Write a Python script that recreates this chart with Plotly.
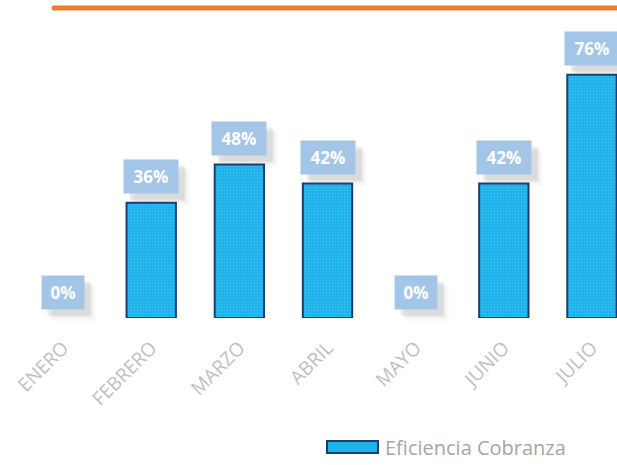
import plotly.graph_objects as go

months = ["ENERO", "FEBRERO", "MARZO", "ABRIL", "MAYO", "JUNIO", "JULIO"]
eficiencia = [0, 36, 48, 42, 0, 42, 76]
labels = ["0%", "36%", "48%", "42%", "0%", "42%", "76%"]
series_name = "Eficiencia Cobranza"

fig = go.Figure()
fig.add_trace(go.Bar(
    x=months, y=eficiencia, name=series_name, width=0.56,
    marker=dict(color="#1db2ea",
                line=dict(color="#1f3b73", width=[2 if v > 0 else 0 for v in eficiencia]),
                pattern=dict(shape=".", fgcolor="#63cdf3", size=3, solidity=0.25)),
    showlegend=False, hoverinfo="skip",
))

annotations = []
for m, v, t in zip(months, eficiencia, labels):
    w = 42 if len(t) == 2 else 54
    for dx, dy, a in [(6, -6, 0.10), (8, -8, 0.08), (11, -11, 0.05)]:
        annotations.append(dict(x=m, y=v, xref="x", yref="y", text="", showarrow=False,
                                width=w, height=33, borderpad=0, xshift=dx, yshift=26 + dy,
                                bgcolor=f"rgba(90,90,90,{a})"))
    annotations.append(dict(x=m, y=v, xref="x", yref="y", text="<b>" + t + "</b>", showarrow=False,
                            width=w, height=33, borderpad=0, yshift=26,
                            bgcolor="#a3c6e8",
                            font=dict(family="Open Sans", size=17, color="white")))

L, T, B = 19, 30, 147
pw, ph = 617 - L, 465 - T - B
def px(xp): return (xp - L) / pw
def py(yp): return (465 - B - yp) / ph

annotations.append(dict(x=px(383), y=py(447), xref="paper", yref="paper", text=series_name,
                        showarrow=False, xanchor="left", yanchor="middle",
                        font=dict(family="Open Sans", size=20, color="#a6a6a6")))

fig.update_layout(
    annotations=annotations,
    width=617, height=465,
    margin=dict(l=L, r=0, t=T, b=B),
    paper_bgcolor="white", plot_bgcolor="white",
    xaxis=dict(range=[-0.5, 6.284], tickangle=-45, showgrid=False, zeroline=False,
               showline=False, ticks="", ticklabelstandoff=14,
               tickfont=dict(family="Open Sans", size=19, color="#c0c0c0")),
    yaxis=dict(range=[0, 90], visible=False, showgrid=False, zeroline=False),
    shapes=[
        dict(type="line", xref="paper", yref="paper", x0=px(54), x1=px(620), y0=py(8), y1=py(8),
             line=dict(color="#ed7d31", width=5)),
        dict(type="circle", xref="paper", yref="paper", x0=px(51.5), x1=px(56.5), y0=py(5.5), y1=py(10.5),
             fillcolor="#ed7d31", line=dict(width=0)),
        dict(type="rect", xref="paper", yref="paper", x0=px(327), x1=px(378), y0=py(441), y1=py(453),
             fillcolor="#1db2ea", line=dict(color="#1f3b73", width=2)),
    ],
)
fig.write_html("out.html", config={"displayModeBar": False},
               post_script="document.body.style.margin='0';document.body.style.overflow='hidden';")
